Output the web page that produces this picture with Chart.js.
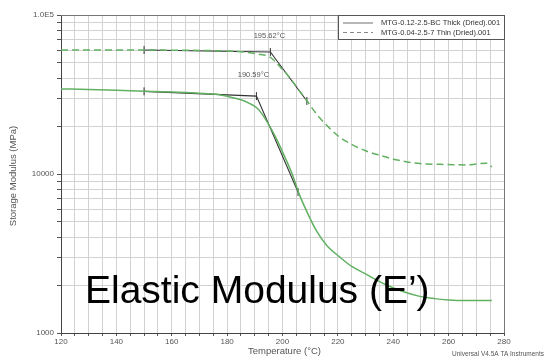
<!DOCTYPE html>
<html>
<head>
<meta charset="utf-8">
<script src="https://cdn.jsdelivr.net/npm/chart.js@4/dist/chart.umd.min.js"></script>
<style>
html,body{margin:0;padding:0;background:#fff;}
canvas{display:block;}
</style>
</head>
<body>
<canvas id="c" width="549" height="363"></canvas>
<script>
// ---- data ----
const thickTemp = [120,130,140,150,160,170,176,181,185,188,190.8,193,195.5,198,201,203.5,206,209,212.4,216,220.7,225,230.5,234,238.8,244,249.6,255,260,265,270,275.6];
const thickMod  = [34300,34000,33600,33200,32800,32200,31700,30500,29300,27800,26000,23300,19800,16400,12600,10000,7500,5700,4350,3550,3000,2620,2330,2150,1960,1810,1700,1645,1615,1600,1600,1600];

const thinTemp = [120,130,140,150,160,170,178,183,187,191,195.5,199,202.7,205.5,208.8,211,213.5,216.5,220,224.3,230,235.2,241,247,252,257,262,266.6,270,273.8,275.6];
const thinMod  = [60300,60300,60300,60200,60100,59900,59500,59000,58300,56900,54300,47500,40200,34500,29000,25500,22500,19800,17400,15600,14000,13100,12300,11750,11550,11500,11450,11400,11550,11700,11100];

const onsetThickTemp = [150,190.59,205.6];
const onsetThickMod  = [33100,30900,7700];
const onsetThinTemp  = [150,195.62,208.8];
const onsetThinMod   = [60250,58500,28800];
const onsetLabels    = ['190.59°C','195.62°C'];

const seriesNames = ['MTG-0.12-2.5-BC Thick (Dried).001','MTG-0.04-2.5-7 Thin (Dried).001'];
const yTickValues = [1000,2000,3000,4000,5000,6000,7000,8000,9000,10000,20000,30000,40000,50000,60000,70000,80000,90000,100000];
const yTickLabels = {1000:'1000',10000:'10000',100000:'1.0E5'};
const xTickLabelValues = [120,140,160,180,200,220,240,260,280];
const xTitle = 'Temperature (°C)';
const yTitle = 'Storage Modulus (MPa)';
const overlayText = 'Elastic Modulus (E’)';
const footText = 'Universal V4.5A TA Instruments';

// ---- chart ----
const toPts = (xs, ys) => xs.map((x,i)=>({x:x, y:ys[i]}));
const FONT = '"Liberation Sans", Arial, sans-serif';
const green = '#62b062';

const extras = {
  id:'extras',
  afterDraw(chart){
    const ctx = chart.ctx, a = chart.chartArea;
    const xs = chart.scales.x, ys = chart.scales.y;
    ctx.save();
    // top/right frame
    ctx.strokeStyle = '#777'; ctx.lineWidth = 1;
    ctx.beginPath();
    ctx.moveTo(a.left, a.top+0.5); ctx.lineTo(a.right+0.5, a.top+0.5); ctx.lineTo(a.right+0.5, a.bottom);
    ctx.stroke();
    // onset labels
    ctx.fillStyle = '#555';
    ctx.font = '7.5px ' + FONT;
    ctx.textAlign = 'center'; ctx.textBaseline = 'middle';
    ctx.fillText(onsetLabels[0], xs.getPixelForValue(onsetThickTemp[1]) - 3, ys.getPixelForValue(onsetThickMod[1]) - 21);
    ctx.fillText(onsetLabels[1], xs.getPixelForValue(onsetThinTemp[1]) - 1, ys.getPixelForValue(onsetThinMod[1]) - 16);
    // legend box
    const lx = 338, ly = a.top, lw = a.right - 338, lh = 24;
    ctx.fillStyle = '#fff'; ctx.fillRect(lx, ly, lw, lh);
    ctx.strokeStyle = '#555'; ctx.strokeRect(lx+0.5, ly+0.5, lw, lh);
    ctx.strokeStyle = '#888'; ctx.lineWidth = 1.2;
    ctx.beginPath(); ctx.moveTo(343, ly+8); ctx.lineTo(373, ly+8); ctx.stroke();
    ctx.setLineDash([4,3]);
    ctx.beginPath(); ctx.moveTo(343, ly+17.5); ctx.lineTo(373, ly+17.5); ctx.stroke();
    ctx.setLineDash([]);
    ctx.fillStyle = '#333'; ctx.font = '7.5px ' + FONT; ctx.textAlign = 'left';
    ctx.fillText(seriesNames[0], 381, ly+8);
    ctx.fillText(seriesNames[1], 381, ly+17.5);
    // axis titles
    ctx.fillStyle = '#555'; ctx.font = '9.5px ' + FONT; ctx.textAlign = 'center';
    ctx.fillText(xTitle, (a.left+a.right)/2 + 2, 351);
    ctx.save();
    ctx.translate(13, (a.top+a.bottom)/2 + 2);
    ctx.rotate(-Math.PI/2);
    ctx.fillText(yTitle, 0, 0);
    ctx.restore();
    // footnote
    ctx.font = '6.5px ' + FONT; ctx.textAlign = 'left'; ctx.fillStyle = '#555';
    ctx.fillText(footText, 452, 354);
    // overlay text
    ctx.fillStyle = '#000'; ctx.font = '39px ' + FONT; ctx.textAlign = 'left'; ctx.textBaseline = 'alphabetic';
    ctx.fillText(overlayText, 85, 303);
    ctx.restore();
  }
};

new Chart(document.getElementById('c'), {
  type:'scatter',
  data:{
    datasets:[
      {data:toPts(thickTemp, thickMod), showLine:true, borderColor:green, borderWidth:1.5, pointRadius:0, cubicInterpolationMode:'monotone'},
      {data:toPts(thinTemp, thinMod), showLine:true, borderColor:green, borderWidth:1.5, borderDash:[7,4], pointRadius:0, cubicInterpolationMode:'monotone'},
      {data:toPts(onsetThickTemp, onsetThickMod), showLine:true, borderColor:'#333', borderWidth:1.1, pointStyle:'line', rotation:90, pointRadius:4, pointBorderColor:'#333', pointBorderWidth:1},
      {data:toPts(onsetThinTemp, onsetThinMod), showLine:true, borderColor:'#333', borderWidth:1.1, pointStyle:'line', rotation:90, pointRadius:4, pointBorderColor:'#333', pointBorderWidth:1}
    ]
  },
  options:{
    responsive:false, animation:false, devicePixelRatio:1,
    layout:{padding:{left:0, top:15, right:45, bottom:0}},
    plugins:{legend:{display:false}, tooltip:{enabled:false}},
    scales:{
      x:{type:'linear', min:120, max:280,
         afterFit(s){ s.height = 30; },
         ticks:{stepSize:5, autoSkip:false, maxRotation:0, padding:1, color:'#555', font:{family:FONT, size:8},
                callback:(v)=> xTickLabelValues.includes(v) ? String(v) : ''},
         grid:{color:'#d2d2d2', lineWidth:1, tickLength:3, tickColor:'#555'},
         border:{color:'#444', width:1}
      },
      y:{type:'logarithmic', min:1000, max:100000,
         afterFit(s){ s.width = 61; },
         afterBuildTicks(s){ s.ticks = yTickValues.map(v=>({value:v})); },
         ticks:{autoSkip:false, padding:3, color:'#555', font:{family:FONT, size:8},
                callback:(v)=> yTickLabels[v] || ''},
         grid:{color:'#d2d2d2', lineWidth:1, tickLength:4, tickColor:'#555'},
         border:{color:'#444', width:1}
      }
    }
  },
  plugins:[extras]
});
</script>
</body>
</html>
